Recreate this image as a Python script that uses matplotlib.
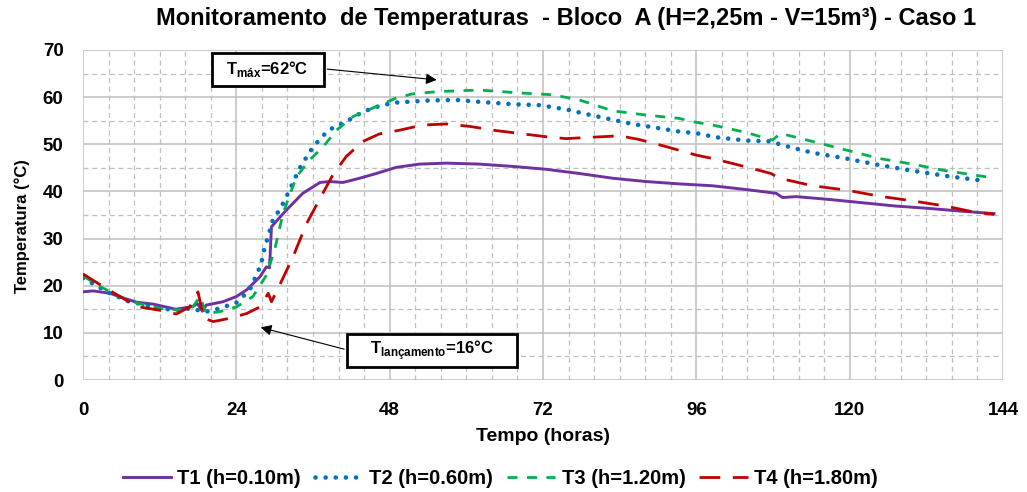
import matplotlib.pyplot as plt
from matplotlib.patches import Rectangle
from matplotlib.ticker import MultipleLocator

plt.rcParams['font.family'] = ['Liberation Sans', 'DejaVu Sans']
plt.rcParams['font.weight'] = 'bold'
plt.rcParams['mathtext.fontset'] = 'custom'
plt.rcParams['mathtext.bf'] = 'Liberation Sans:bold'
plt.rcParams['mathtext.rm'] = 'Liberation Sans:bold'

# Dados (tempo em horas, temperatura em °C)
t1 = [0, 1.6, 4.2, 6.3, 8.4, 11, 14.6, 17.2, 17.9, 18.7, 19.3, 21.9, 24, 25.6, 27.7, 28.7, 29.2, 29.5,
      31.8, 34.4, 37.1, 38.6, 40.7, 43.3, 45.9, 49, 52.7, 56.9, 62, 67.3, 72.5, 77.7, 82.9, 88.1, 93.3,
      98.5, 103.8, 108.5, 109.5, 111.6, 116.8, 122, 127.2, 132.4, 137.6, 142.6]
T1 = [18.7, 18.9, 18.4, 17.4, 16.5, 16.1, 15.0, 15.6, 16.2, 14.6, 15.9, 16.6, 17.7, 19.1, 21.9, 24.0, 23.8, 32.5,
      36.0, 39.6, 41.9, 42.1, 41.9, 42.8, 43.8, 45.1, 45.8, 46.0, 45.8, 45.3, 44.7, 43.8, 42.8, 42.1, 41.6,
      41.2, 40.4, 39.6, 38.7, 38.9, 38.3, 37.6, 36.9, 36.4, 35.8, 35.3]

t2 = [0, 1.6, 4.2, 7.3, 11, 14.1, 17.2, 18.6, 19.3, 21.4, 24, 26.1, 27.9, 28.2, 29.8, 30.8, 32.1, 33.9, 35.5,
      36.5, 38.4, 41.2, 43.8, 46.4, 48.5, 54.3, 58.4, 62, 67.3, 71.5, 75.6, 78.8, 82.9, 86, 90.2, 93.3, 96.2,
      99, 103.8, 107.9, 109.2, 114.2, 119.4, 124.6, 129.8, 135, 141.3]
T2 = [21.6, 20.4, 18.4, 16.6, 15.6, 14.8, 15.2, 14.5, 14.5, 15.2, 16.4, 19.1, 24.6, 26.9, 34.3, 36.1, 39.6, 44.9, 48.4,
      50.2, 53.0, 54.8, 56.9, 58.1, 58.8, 59.3, 59.4, 59.0, 58.5, 58.3, 57.4, 56.4, 55.2, 54.3, 53.4, 52.7, 52.3,
      51.5, 50.8, 50.6, 49.9, 48.2, 47.0, 45.6, 44.4, 43.3, 42.2]

t3 = [0, 2.7, 5.8, 8.4, 12, 15.2, 17.2, 18.3, 19.3, 21.4, 24, 26.6, 28.7, 30, 31.3, 33.4, 35.5, 37.6, 39.7,
      42.3, 45.9, 49, 51.6, 55.8, 62, 68.3, 73.5, 77.7, 82.9, 88.1, 93.3, 95.4, 98.5, 103.8, 107.9, 109.2,
      114.2, 119.4, 124.6, 129.8, 135, 141.8]
T3 = [22.1, 19.8, 17.7, 16.3, 15.2, 14.8, 15.5, 17.7, 14.1, 14.5, 15.5, 17.7, 22.2, 27.6, 35.3, 43.1, 46.7, 49.5, 53.0,
      55.9, 58.0, 59.8, 60.7, 61.2, 61.5, 60.9, 60.5, 59.4, 57.1, 56.2, 55.5, 54.8, 54.1, 52.5, 50.9, 52.3,
      50.6, 48.8, 47.0, 45.8, 44.4, 43.0]

t4 = [0, 2.7, 5.8, 8.4, 12, 14.6, 16.7, 18, 18.9, 20.4, 23, 25.6, 27.7, 29, 29.5, 30.8, 32.9, 35, 37.1,
      39.1, 41.2, 43.8, 46.4, 49.6, 53.2, 56.9, 60.5, 64.7, 68.3, 72.5, 75.6, 79.8, 84, 87.1, 91.3, 96,
      98.5, 103.8, 107.7, 109, 114.2, 119.4, 124.6, 129.8, 135, 139.2, 142.6]
T4 = [22.5, 20.2, 17.7, 15.6, 14.8, 14.0, 15.5, 18.7, 13.1, 12.4, 13.1, 14.1, 15.5, 18.4, 16.6, 20.2, 26.2, 33.2, 38.5,
      43.5, 47.4, 50.6, 52.2, 53.0, 54.1, 54.3, 53.8, 52.9, 52.3, 51.6, 51.2, 51.5, 51.8, 51.0, 49.5, 47.7,
      47.0, 45.2, 43.8, 42.8, 41.2, 40.3, 39.0, 38.0, 36.9, 35.7, 35.1]

fig = plt.figure(figsize=(10.27, 4.92), dpi=100)
ax = fig.add_axes([0.0808, 0.2276, 0.8958, 0.6708])

ax.plot(t1, T1, color='#7030A0', lw=2.1, label='T1 (h=0.10m)')
ax.plot(t2, T2, color='#0070C0', lw=3.3, linestyle=(0, (0.01, 2.2)), dash_capstyle='round',
        label='T2 (h=0.60m)')
ax.plot(t3, T3, color='#00B050', lw=2.0, linestyle=(0, (3.6, 3.4)), label='T3 (h=1.20m)')
ax.plot(t4, T4, color='#C00000', lw=2.0, linestyle=(0, (7.5, 4.5)), label='T4 (h=1.80m)')

ax.set_xlim(0, 144)
ax.set_ylim(0, 70)
ax.xaxis.set_major_locator(MultipleLocator(24))
ax.xaxis.set_minor_locator(MultipleLocator(4))
ax.yaxis.set_major_locator(MultipleLocator(10))
ax.yaxis.set_minor_locator(MultipleLocator(5))
ax.grid(True, which='major', color='#BFBFBF', lw=1.1)
ax.grid(True, which='minor', color='#BFBFBF', lw=0.9, linestyle=(0, (4, 3)))
ax.set_axisbelow(True)
ax.get_ygridlines()[0].set_visible(False)
for s in ax.spines.values():
    s.set_visible(False)
ax.tick_params(which='both', length=0)
ax.tick_params(axis='y', pad=14, labelsize=13.5)
ax.tick_params(axis='x', pad=16, labelsize=13.5)

fig.text(0.529, 0.112, 'Tempo (horas)', fontsize=14, fontweight='bold', ha='center', va='center')
fig.text(0.022, 0.541, 'Temperatura (°C)', fontsize=12, fontweight='bold', ha='center', va='center',
         rotation=90)
fig.text(0.5516, 0.963, 'Monitoramento  de Temperaturas  - Bloco  A (H=2,25m - V=15m³) - Caso 1',
         fontsize=17, fontweight='bold', ha='center', va='center')

# Anotações
ax.annotate('', xy=(55.8, 63.6), xytext=(37.8, 66.0),
            arrowprops=dict(arrowstyle='-|>', color='black', lw=0.8, mutation_scale=16))
ax.add_patch(Rectangle((20.2, 62.4), 17.5, 7.0, fc='white', ec='black', lw=2.0, zorder=5))
ax.text(28.9, 65.9, r'T$_{\mathbf{máx}}$=62°C', fontsize=12, fontweight='bold', va='center', ha='center',
        zorder=6)
ax.annotate('', xy=(27.4, 11.3), xytext=(41.3, 6.4),
            arrowprops=dict(arrowstyle='-|>', color='black', lw=0.8, mutation_scale=16))
ax.add_patch(Rectangle((41.3, 2.8), 26.7, 7.0, fc='white', ec='black', lw=2.0, zorder=5))
ax.text(54.6, 6.3, r'T$_{\mathbf{lançamento}}$=16°C', fontsize=12, fontweight='bold', va='center',
        ha='center', zorder=6)

fig.legend(loc='center', bbox_to_anchor=(0.487, 0.028), ncol=4, frameon=False, fontsize=14.5,
           handlelength=2.4, handletextpad=0.3, columnspacing=0.7)

fig.savefig('out.png', dpi=100)
